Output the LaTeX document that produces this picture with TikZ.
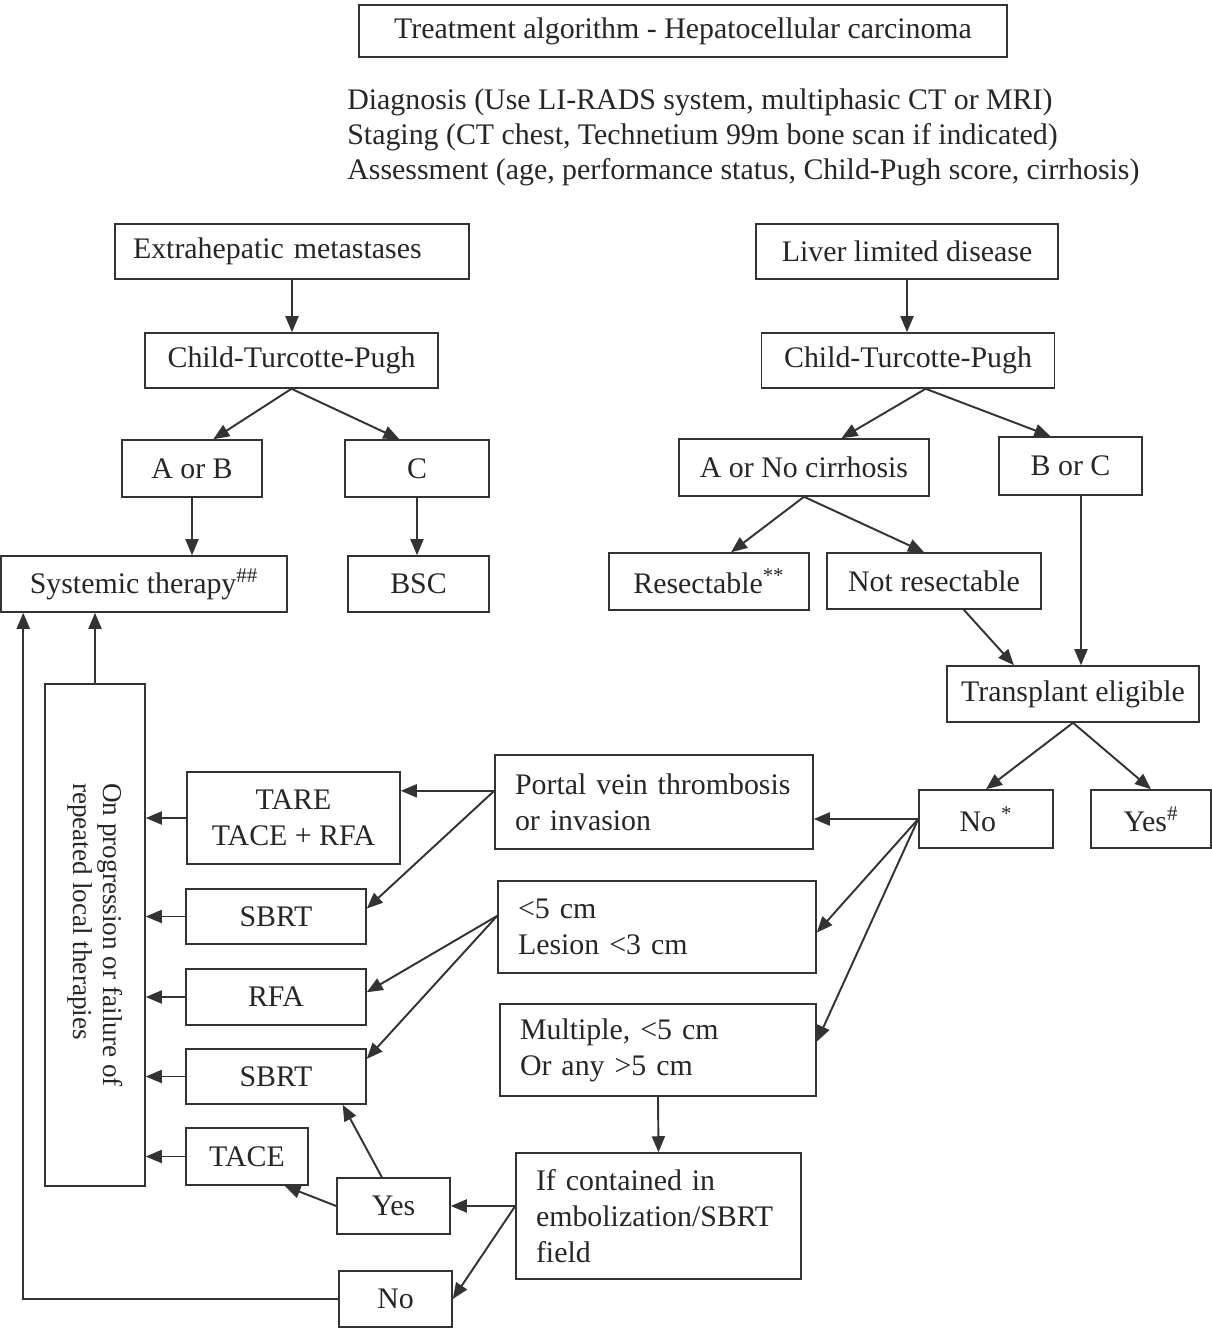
\documentclass[tikz,border=0pt]{standalone}
\usepackage{fontspec}
\setmainfont{Liberation Serif}
\usetikzlibrary{arrows.meta}
\usetikzlibrary{shapes}

\begin{document}
\begin{tikzpicture}[x = 0.02cm, y = -0.02cm]
\tikzstyle{boxStyle} = [draw = black!80, line width = 0.9pt, inner sep = 0pt, text = black!85, font = \fontsize{17}{20.5}\selectfont, align = center]
\tikzstyle{leftStyle} = [boxStyle, align = left, inner xsep = 0.4cm]
\tikzstyle{plainStyle} = [inner sep = 0pt, text = black!85, font = \fontsize{17}{20.5}\selectfont]
\tikzstyle{arrowStyle} = [draw = black!80, line width = 1.1pt, -{Triangle[length = 0.32cm, width = 0.26cm]}]
\useasboundingbox (0,0) rectangle (1212,1329);
\node[boxStyle, minimum width = 12.96cm, minimum height = 1.04cm] (title) at (683,31) {Treatment algorithm - Hepatocellular carcinoma};
\node[plainStyle, anchor = base west] (diag) at (347,109) {Diagnosis (Use LI-RADS system, multiphasic CT or MRI)};
\node[plainStyle, anchor = base west] (stage) at (347,144) {Staging (CT chest, Technetium 99m bone scan if indicated)};
\node[plainStyle, anchor = base west] (assess) at (347,179) {Assessment (age, performance status, Child-Pugh score, cirrhosis)};
% extrahepatic branch
\node[leftStyle, inner xsep = 0.36cm, text width = 6.36cm, minimum height = 1.1cm] (extra) at (292,251.5) {Extrahepatic metastases};
\node[boxStyle, minimum width = 5.86cm, minimum height = 1.1cm] (ctpL) at (291.5,360.5) {Child-Turcotte-Pugh};
\node[boxStyle, minimum width = 2.8cm, minimum height = 1.14cm] (aorb) at (192,468.5) {A or B};
\node[boxStyle, minimum width = 2.88cm, minimum height = 1.14cm] (cbox) at (417,468.5) {C};
\node[boxStyle, minimum width = 5.72cm, minimum height = 1.12cm] (sys) at (144,584) {Systemic therapy\textsuperscript{\#\#}};
\node[boxStyle, minimum width = 2.82cm, minimum height = 1.12cm] (bsc) at (418.5,584) {BSC};
% liver limited branch
\node[boxStyle, minimum width = 6.04cm, minimum height = 1.1cm] (liver) at (907,251.5) {Liver limited disease};
\node[boxStyle, minimum width = 5.86cm, minimum height = 1.1cm] (ctpR) at (908,360.5) {Child-Turcotte-Pugh};
\node[boxStyle, minimum width = 5.0cm, minimum height = 1.14cm] (acirr) at (804,467.5) {A or No cirrhosis};
\node[boxStyle, minimum width = 2.86cm, minimum height = 1.16cm] (bc) at (1070.5,466) {B or C};
\node[boxStyle, minimum width = 4.0cm, minimum height = 1.14cm] (res) at (709,581.5) {Resectable\textsuperscript{**}};
\node[boxStyle, minimum width = 4.28cm, minimum height = 1.12cm] (nres) at (934,581) {Not resectable};
\node[boxStyle, minimum width = 5.04cm, minimum height = 1.12cm] (trans) at (1073,694) {Transplant eligible};
\node[boxStyle, minimum width = 2.68cm, minimum height = 1.16cm] (nostar) at (986,819) {No\,\textsuperscript{*}};
\node[boxStyle, minimum width = 2.4cm, minimum height = 1.16cm] (yeshash) at (1151,819) {Yes\textsuperscript{\#}};
\node[leftStyle, text width = 5.56cm, minimum height = 1.88cm] (portal) at (654,802) {Portal vein thrombosis\\or invasion};
\node[leftStyle, text width = 5.56cm, minimum height = 1.84cm] (small) at (657,927) {<5 cm\\Lesion <3 cm};
\node[leftStyle, text width = 5.52cm, minimum height = 1.84cm] (multi) at (658,1050) {Multiple, <5 cm\\Or any >5 cm};
\node[leftStyle, text width = 4.9cm, minimum height = 2.52cm] (contain) at (658.5,1216) {If contained in\\embolization/SBRT\\field};
% local therapies
\node[boxStyle, align = left, rotate = -90, font = \fontsize{15.5}{17}\selectfont, minimum width = 10.04cm, minimum height = 2.0cm] (prog) at (95,935) {On progression or failure of\\repeated local therapies};
\node[boxStyle, minimum width = 4.26cm, minimum height = 1.84cm] (tare) at (293.5,818) {TARE\\TACE + RFA};
\node[boxStyle, minimum width = 3.6cm, minimum height = 1.1cm] (sbrtA) at (276,916.5) {SBRT};
\node[boxStyle, minimum width = 3.6cm, minimum height = 1.12cm] (rfa) at (276,997) {RFA};
\node[boxStyle, minimum width = 3.6cm, minimum height = 1.1cm] (sbrtB) at (276,1076.5) {SBRT};
\node[boxStyle, minimum width = 2.44cm, minimum height = 1.14cm] (tace) at (247,1156.5) {TACE};
\node[boxStyle, minimum width = 2.26cm, minimum height = 1.12cm] (yes) at (393.5,1206) {Yes};
\node[boxStyle, minimum width = 2.26cm, minimum height = 1.12cm] (no) at (395.5,1299) {No};
% arrows
\draw[arrowStyle] (extra.south) -- (extra.south |- ctpL.north);
\draw[arrowStyle] (ctpL.south) -- (aorb.54);
\draw[arrowStyle] (ctpL.south) -- (cbox.121);
\draw[arrowStyle] (aorb.south) -- (aorb.south |- sys.north);
\draw[arrowStyle] (cbox.south) -- (cbox.south |- bsc.north);
\draw[arrowStyle] (liver.south) -- (liver.south |- ctpR.north);
\draw[arrowStyle] (ctpR.-58) -- (acirr.38);
\draw[arrowStyle] (ctpR.-58) -- (bc.124);
\draw[arrowStyle] (acirr.south) -- (res.53);
\draw[arrowStyle] (acirr.south) -- (nres.109);
\draw[arrowStyle] (nres.-44) -- (trans.154);
\draw[arrowStyle] ([xshift = 0.21cm]bc.south) -- ([xshift = 0.21cm]bc.south |- trans.north);
\draw[arrowStyle] (trans.south) -- (nostar.north);
\draw[arrowStyle] (trans.south) -- (yeshash.north);
\draw[arrowStyle] (nostar.west) -- (nostar.west -| portal.east);
\draw[arrowStyle] (nostar.west) -- (small.-2);
\draw[arrowStyle] (nostar.west) -- (multi.3);
\draw[arrowStyle] (portal.176) -- (portal.176 -| tare.east);
\draw[arrowStyle] (portal.176) -- (sbrtA.5);
\draw[arrowStyle] (small.176) -- (rfa.3);
\draw[arrowStyle] (small.176) -- (sbrtB.11);
\draw[arrowStyle] (multi.south) -- (contain.north);
\draw[arrowStyle] (contain.176) -- (contain.176 -| yes.east);
\draw[arrowStyle] (contain.176) -- (no.east);
\draw[arrowStyle] (yes.112) -- (sbrtB.-23);
\draw[arrowStyle] (yes.west) -- (tace.-38);
\foreach \t in {tare, sbrtA, rfa, sbrtB, tace}
  \draw[arrowStyle] (\t.west) -- (\t.west -| prog.north);
\draw[arrowStyle] (prog.west) -- (prog.west |- sys.south);
\draw[arrowStyle] (no.west) -| ([xshift = 0.46cm]sys.south west);
\end{tikzpicture}
\end{document}
